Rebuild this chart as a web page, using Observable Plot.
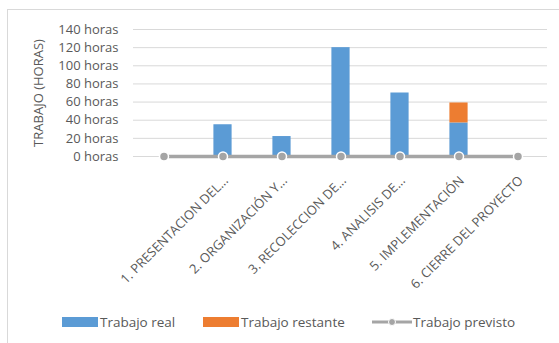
<!DOCTYPE html>
<html><head><meta charset="utf-8">
<script src="https://cdn.jsdelivr.net/npm/d3@7"></script>
<script src="https://cdn.jsdelivr.net/npm/@observablehq/plot@0.6"></script>
<style>
body{margin:0;background:#fff;font-family:"Open Sans",sans-serif;width:559px;height:343px;overflow:hidden;position:relative;}
#frame{position:absolute;left:7px;top:9px;width:600px;height:400px;border:1px solid #d9d9d9;}
#chart{position:absolute;left:0;top:0;}
#legend{position:absolute;left:0;top:312px;width:559px;height:20px;font-size:13.5px;color:#595959;}
.item{position:absolute;top:0;height:20px;display:flex;align-items:center;white-space:nowrap;}
.sw{display:inline-block;width:36px;height:10px;margin-right:2px;}
</style>
</head><body>
<div id="frame"></div>
<div id="chart"></div>
<div id="legend"></div>
<script>
const categorias = ["", "1. PRESENTACION DEL...", "2. ORGANIZACIÓN Y...", "3. RECOLECCION DE...", "4. ANALISIS DE...", "5. IMPLEMENTACIÓN", "6. CIERRE DEL PROYECTO"];
const trabajoReal = [null, 35, 22, 120, 70, 37, null];
const trabajoRestante = [null, 0, 0, 0, 0, 22, null];
const trabajoPrevisto = [0, 0, 0, 0, 0, 0, 0];
const yTicks = [0, 20, 40, 60, 80, 100, 120, 140];
const series = ["Trabajo real", "Trabajo restante", "Trabajo previsto"];
const colores = ["#5b9bd5", "#ed7d31", "#a5a5a5"];

const barras = [];
categorias.forEach((c, i) => {
  if (trabajoReal[i] != null) barras.push({cat: c, serie: series[0], valor: trabajoReal[i]});
  if (trabajoRestante[i] != null) barras.push({cat: c, serie: series[1], valor: trabajoRestante[i]});
});
const linea = categorias.map((c, i) => ({cat: c, valor: trabajoPrevisto[i]}));

const W = 559, H = 300;
const plot = Plot.plot({
  width: W, height: H,
  marginLeft: 133, marginRight: 12, marginTop: 29, marginBottom: H - 156,
  style: {fontFamily: '"Open Sans", sans-serif', fontSize: "13px", color: "#595959", background: "transparent"},
  x: {domain: categorias, padding: 0},
  y: {domain: [0, 140]},
  color: {domain: series, range: colores},
  marks: [
    Plot.ruleY(yTicks, {stroke: "#d9d9d9", strokeWidth: 1}),
    Plot.barY(barras, Plot.stackY({x: "cat", y: "valor", fill: "serie", order: series, insetLeft: 20.4, insetRight: 20.4})),
    Plot.line(linea, {x: "cat", y: "valor", stroke: "#a5a5a5", strokeWidth: 3.5}),
    Plot.dot(linea, {x: "cat", y: "valor", r: 4.5, fill: "#a5a5a5", stroke: "white", strokeWidth: 1.5}),
    Plot.axisY({ticks: yTicks, tickFormat: d => d + " horas", tickSize: 0, tickPadding: 15, fontSize: 13, label: "TRABAJO (HORAS)", labelAnchor: "center", labelOffset: 100, labelArrow: "none"}),
    Plot.axisX({tickRotate: -45, tickSize: 0, tickPadding: 6, fontSize: 13, dx: 3, dy: 16, label: null})
  ]
});
document.getElementById("chart").appendChild(plot);

const leg = document.getElementById("legend");
const pos = [62, 203, 372];
series.forEach((s, i) => {
  const d = document.createElement("div");
  d.className = "item";
  d.style.left = pos[i] + "px";
  if (i < 2) {
    d.innerHTML = `<span class="sw" style="background:${colores[i]}"></span>${s}`;
  } else {
    d.innerHTML = `<svg width="40" height="10" style="margin-right:1px"><line x1="0" x2="40" y1="5" y2="5" stroke="${colores[i]}" stroke-width="3"/><circle cx="20" cy="5" r="3.5" fill="${colores[i]}" stroke="white" stroke-width="1"/></svg>${s}`;
  }
  leg.appendChild(d);
});
</script>
</body></html>
